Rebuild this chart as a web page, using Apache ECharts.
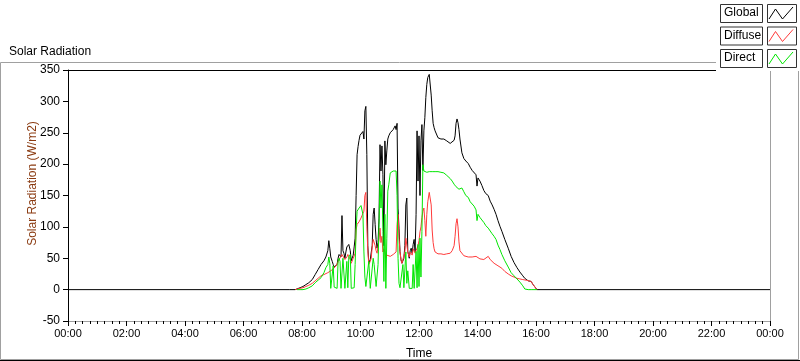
<!DOCTYPE html>
<html><head><meta charset="utf-8">
<script src="https://cdn.jsdelivr.net/npm/echarts@6/dist/echarts.min.js"></script>
<style>html,body{margin:0;padding:0;background:#fff}#c{width:800px;height:361px}</style>
</head><body><div id="c"></div>
<script>
// time in minutes after midnight
const times = [
 0,455,466,470,476,482,488,494,501,507,
 513,519,525,529,533,535,537,539,542,544,
 546,548,550,552,554,556,558,560,562,564,
 566,568,570,572,574,576,579,581,583,585,
 587,589,591,593,595,597,599,601,603,605,
 607,609,611,613,615,617,620,622,624,626,
 628,630,632,634,636,638,640,642,644,646,
 648,650,652,654,656,658,661,663,665,667,
 669,671,673,675,677,679,681,683,685,687,
 689,691,693,695,697,700,702,704,706,708,
 710,712,714,716,718,720,722,724,726,728,
 730,732,734,736,738,741,743,745,747,749,
 751,753,759,765,771,777,784,788,792,794,
 796,798,800,802,804,808,812,816,821,825,
 829,833,837,839,841,845,849,853,857,862,
 866,870,874,878,882,886,890,896,903,909,
 915,921,927,933,937,940,944,950,954,958,
 962,1440];
const globalVals = [
 0,0,0,1,3,5,8,11,16,24,
 32,40,46,52,62,78,66,52,45,40,
 36,35,36,40,50,56,58,52,118,62,
 58,50,60,68,66,72,62,46,48,55,
 68,82,150,215,228,238,246,248,244,252,
 240,285,292,215,70,42,48,50,70,120,
 130,104,80,66,75,114,231,189,229,183,
 70,237,199,221,240,245,250,250,252,255,
 258,261,255,265,130,98,61,48,42,40,
 50,70,135,146,61,50,62,66,58,72,
 80,60,120,253,173,245,150,237,263,190,
 253,274,306,327,338,343,340,310,285,265,
 258,253,242,240,240,237,233,232,238,245,
 265,272,266,255,240,218,209,205,201,195,
 190,188,183,165,178,173,166,158,153,150,
 141,135,128,120,110,101,93,80,66,53,
 43,35,28,22,18,16,14,13,8,4,
 0,0];
const diffuseVals = [
 null,null,0,1,2,3,5,7,10,14,
 18,22,24,25,27,28,30,30,31,33,
 34,36,38,40,44,48,50,50,56,57,
 55,48,47,52,56,55,48,42,45,50,
 52,58,95,104,106,108,110,114,118,120,
 125,150,155,100,62,40,45,50,68,80,
 78,70,62,58,60,80,98,75,85,60,
 65,60,50,55,56,56,53,53,54,56,
 57,58,60,104,120,82,61,47,42,40,
 45,60,82,82,60,52,60,62,55,65,
 62,58,62,60,70,78,92,100,115,125,
 130,110,85,120,140,155,157,135,95,75,
 65,60,57,57,56,57,58,62,70,85,
 105,113,100,76,62,60,54,56,52,53,
 52,53,53,52,50,49,48,48,50,53,
 48,45,42,41,38,36,34,29,25,22,
 20,18,17,16,15,15,14,13,8,4,
 0,null];
const directVals = [
 null,null,null,0,0,0,1,3,6,11,
 15,19,27,35,40,52,42,2,2,38,
 4,2,2,2,45,50,45,2,5,50,
 52,2,2,45,3,52,56,2,2,2,
 3,40,95,125,128,130,132,134,136,120,
 60,20,5,3,2,45,2,2,3,50,
 40,40,5,3,40,104,173,130,167,93,
 13,120,2,82,157,167,186,188,188,189,
 190,190,189,150,50,10,3,2,2,40,
 3,3,60,10,30,2,2,2,2,40,
 2,2,61,3,72,5,82,20,93,199,
 189,189,188,187,187,188,189,188,188,187,
 188,188,188,187,186,182,177,173,168,167,
 164,161,162,160,163,162,156,150,147,140,
 137,133,127,110,120,115,111,107,102,98,
 95,89,85,80,71,64,56,46,36,27,
 22,17,12,6,1,0,0,0,0,0,
 0,null];
const seriesNames = ['Global','Diffuse','Direct'];
const seriesColors = ['#000000','#ff3a3a','#00e600'];
const yTicks = {min:-50, max:350, step:50};
const xTicks = {min:0, max:1440, step:120};

const FONT = 'Liberation Sans';
const chart = echarts.init(document.getElementById('c'), null, {renderer:'canvas'});
function fmt(v){ const h=Math.floor(v/60)%24, m=Math.round(v%60); return String(h).padStart(2,'0')+':'+String(m).padStart(2,'0'); }
const pair = vals => times.map((t,i)=>[t, vals[i]]);
const allVals = [globalVals, diffuseVals, directVals];

const legendItems = [];
seriesNames.forEach((n,i)=>{
  const y0 = 4 + i*22.5;
  legendItems.push(
    {type:'rect', z:110, shape:{x:720.5,y:y0+0.5,width:42,height:18}, style:{fill:'#fff',stroke:'#333',lineWidth:1}},
    {type:'text', z:111, left:724, top:y0+3, style:{text:n, font:'12px '+FONT, fill:'#000'}},
    {type:'rect', z:110, shape:{x:767.5,y:y0+0.5,width:29,height:18}, style:{fill:'#fff',stroke:'#333',lineWidth:1}},
    {type:'polyline', z:111, shape:{points:[[769,y0+15],[775.5,y0+5],[782.5,y0+15],[793,y0+3]]}, style:{stroke:seriesColors[i],lineWidth:1,fill:null}}
  );
});

chart.setOption({
  animation:false,
  textStyle:{fontFamily:FONT},
  title:{text:'Solar Radiation', left:4, top:41, textStyle:{fontSize:12,fontWeight:'normal',color:'#000',fontFamily:FONT}},
  grid:{left:68, top:70, right:30, bottom:40, containLabel:false, outerBoundsMode:'none'},
  xAxis:[{type:'value', min:xTicks.min, max:xTicks.max, interval:xTicks.step,
    name:'Time', nameLocation:'middle', nameGap:27, nameMoveOverlap:false, nameTextStyle:{color:'#000',fontSize:12,fontFamily:FONT},
    axisLine:{onZero:false, lineStyle:{color:'#a0a0a0'}},
    axisTick:{length:5, lineStyle:{color:'#000'}},
    minorTick:{show:true, splitNumber:8, length:3, lineStyle:{color:'#000'}},
    axisLabel:{formatter:fmt, color:'#000', fontSize:11, margin:7, fontFamily:FONT},
    splitLine:{show:false}},
   {type:'value', position:'top', min:xTicks.min, max:xTicks.max,
    axisLine:{show:true, onZero:false, lineStyle:{color:'#000'}}, axisTick:{show:false}, axisLabel:{show:false}, splitLine:{show:false}}],
  yAxis:[{type:'value', min:yTicks.min, max:yTicks.max, interval:yTicks.step,
    name:'Solar Radiation (W/m2)', nameLocation:'middle', nameGap:29, nameMoveOverlap:false,
    nameTextStyle:{color:'#8a3a10', fontSize:12, fontFamily:FONT, padding:[0,0,0,24]},
    axisLine:{show:true, onZero:false, lineStyle:{color:'#000'}},
    axisTick:{show:true, length:5, lineStyle:{color:'#000'}},
    axisLabel:{color:'#000', fontSize:12, margin:8, fontFamily:FONT},
    splitLine:{show:false}},
   {type:'value', position:'right', min:yTicks.min, max:yTicks.max,
    axisLine:{show:true, onZero:false, lineStyle:{color:'#a0a0a0'}}, axisTick:{show:false}, axisLabel:{show:false}, splitLine:{show:false}}],
  series: seriesNames.map((n,i)=>({
    name:n, type:'line', data:pair(allVals[i]), showSymbol:false, symbol:'none',
    lineStyle:{color:seriesColors[i], width:1}, connectNulls:false, silent:true, z:2+i
  })),
  graphic:[
    {type:'rect', z:-10, shape:{x:0.5,y:62.5,width:798,height:297}, style:{fill:null,stroke:'#a0a0a0',lineWidth:1}},
    {type:'line', z:-9, shape:{x1:0,y1:360.5,x2:800,y2:360.5}, style:{stroke:'#000',lineWidth:1}},
    {type:'rect', z:100, shape:{x:716,y:0,width:84,height:71}, style:{fill:'#fff'}},
    ...legendItems
  ]
});
</script></body></html>
